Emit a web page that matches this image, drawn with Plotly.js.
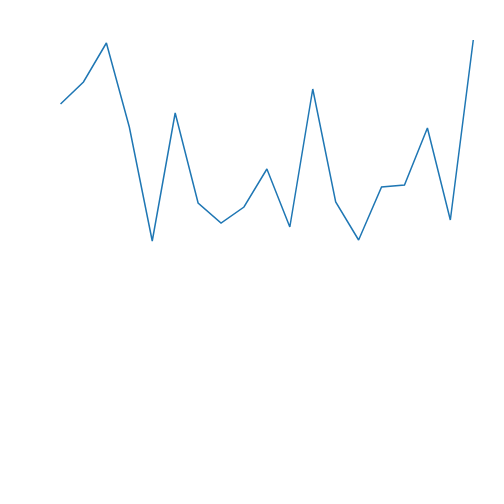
<!DOCTYPE html>
<html>
<head>
<meta charset="utf-8">
<script src="https://cdn.plot.ly/plotly-3.0.1.min.js"></script>
<style>html,body{margin:0;padding:0;background:#fff;}#chart{width:504px;height:504px;}</style>
</head>
<body>
<div id="chart"></div>
<script>
const xValues = [0,1,2,3,4,5,6,7,8,9,10,11,12,13,14,15,16,17,18];
const yValues = [14.6,16.8,20.7,12.3,0.9,13.7,4.7,2.7,4.3,8.1,2.3,16.1,4.8,1.0,6.3,6.5,12.2,3.0,21.0];

Plotly.newPlot('chart', [{
  x: xValues,
  y: yValues,
  type: 'scatter',
  mode: 'lines',
  line: {color: '#1f77b4', width: 1.5},
  hoverinfo: 'none'
}], {
  width: 504,
  height: 504,
  margin: {l: 0, r: 0, t: 0, b: 0},
  paper_bgcolor: '#ffffff',
  plot_bgcolor: '#ffffff',
  showlegend: false,
  xaxis: {range: [-2.64, 19.34], visible: false, showgrid: false, zeroline: false},
  yaxis: {range: [-25.4, 25], visible: false, showgrid: false, zeroline: false}
}, {displayModeBar: false, staticPlot: true});
</script>
</body>
</html>
